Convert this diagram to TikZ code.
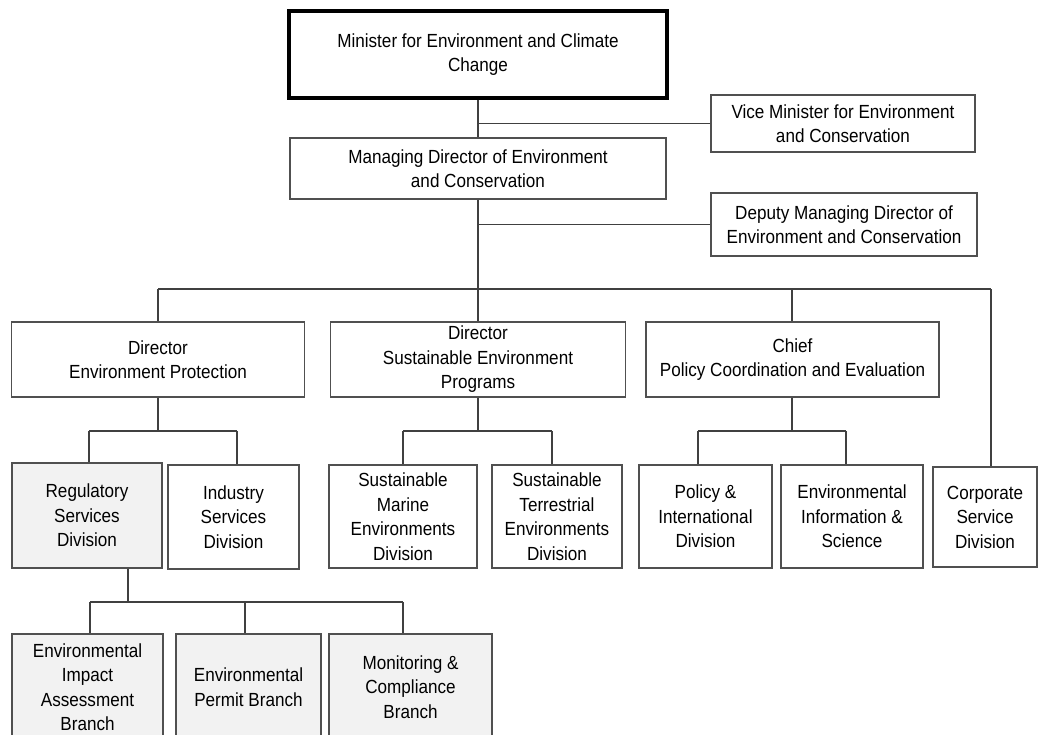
\documentclass[tikz,border=0pt]{standalone}
\usepackage{fontspec}
\setmainfont{Liberation Sans}[FakeStretch=0.9]
\begin{document}
\definecolor{linec}{HTML}{404040}
\definecolor{boxc}{HTML}{505050}
\definecolor{shade}{HTML}{F2F2F2}
\begin{tikzpicture}[x=1pt,y=-1pt,
  unit/.style={draw=boxc, line width=1.2pt, fill=white, align=center,
    inner sep=2pt, font=\fontsize{19}{24.5}\selectfont, text=black},
  shaded/.style={unit, fill=shade},
  head/.style={unit, draw=black, line width=3.4pt},
  link/.style={draw=linec, line width=1.2pt}]
\useasboundingbox (0,0) rectangle (1038,735);

% top level
\node[head, minimum width=378pt, minimum height=87pt] (min) at (478,54.5)
  {Minister for Environment and Climate\\Change};
\node[unit, minimum width=264pt, minimum height=57pt] (vice) at (843,123.5)
  {Vice Minister for Environment\\and Conservation};
\node[unit, minimum width=376pt, minimum height=61pt] (md) at (478,168.5)
  {Managing Director of Environment\\and Conservation};
\node[unit, minimum width=266pt, minimum height=63pt] (dep) at (844,224.5)
  {Deputy Managing Director of\\Environment and Conservation};

% directors
\node[unit, minimum width=293pt, minimum height=75pt] (ep) at (158,359.5)
  {Director\\Environment Protection};
\node[unit, minimum width=295pt, minimum height=75pt] (dse) at (478,359.5)
  {Director\\Sustainable Environment\\Programs};
\node[unit, minimum width=293pt, minimum height=75pt] (chief) at (792.5,359.5)
  {Chief\\Policy Coordination and Evaluation};

% divisions
\node[shaded, minimum width=150pt, minimum height=105pt] (reg) at (87,515.5)
  {Regulatory\\Services\\Division};
\node[unit, minimum width=131pt, minimum height=104pt] (ind) at (233.5,517)
  {Industry\\Services\\Division};
\node[unit, minimum width=148pt, minimum height=103pt] (marine) at (403,516.5)
  {Sustainable\\Marine\\Environments\\Division};
\node[unit, minimum width=130pt, minimum height=103pt] (terr) at (557,516.5)
  {Sustainable\\Terrestrial\\Environments\\Division};
\node[unit, minimum width=133pt, minimum height=103pt] (pol) at (705.5,516.5)
  {Policy \&\\International\\Division};
\node[unit, minimum width=142pt, minimum height=103pt] (info) at (852,516.5)
  {Environmental\\Information \&\\Science};
\node[unit, minimum width=104pt, minimum height=100pt] (corp) at (985,517)
  {Corporate\\Service\\Division};

% branches
\node[shaded, minimum width=151pt, minimum height=106pt] (eia) at (87.5,687)
  {Environmental\\Impact\\Assessment\\Branch};
\node[shaded, minimum width=145pt, minimum height=106pt] (permit) at (248.5,687)
  {Environmental\\Permit Branch};
\node[shaded, minimum width=163pt, minimum height=106pt] (mon) at (410.5,687)
  {Monitoring \&\\Compliance\\Branch};

% junction points
\coordinate (bus)   at (478,289);
\coordinate (busL)  at (158,289);
\coordinate (busR)  at (991,289);
\coordinate (busC)  at (792,289);
\coordinate (epJ)   at (158,431);
\coordinate (epL)   at (89,431);
\coordinate (epR)   at (237,431);
\coordinate (dseJ)  at (478,431);
\coordinate (dseL)  at (403,431);
\coordinate (dseR)  at (552,431);
\coordinate (chJ)   at (792,431);
\coordinate (chL)   at (698,431);
\coordinate (chR)   at (846,431);
\coordinate (regS)  at (128,568);
\coordinate (regJ)  at (128,602);
\coordinate (brL)   at (90,602);
\coordinate (brM)   at (245,602);
\coordinate (brR)   at (403,602);

% connectors, top part
\path[link] (min.south) -- (md.north);
\path[link] (vice.west) -- (vice.west -| min.south);
\path[link] (md.south) -- (bus);
\path[link] (dep.west) -- (dep.west -| md.south);
\path[link] (busL) -- (busR);
\path[link] (busL) -- (busL |- ep.north);
\path[link] (bus) -- (dse.north);
\path[link] (busC) -- (busC |- chief.north);
\path[link] (busR) -- (busR |- corp.north);

% connectors, divisions
\path[link] (ep.south -| epJ) -- (epJ);
\path[link] (epL) -- (epR);
\path[link] (epL) -- (epL |- reg.north);
\path[link] (epR) -- (epR |- ind.north);
\path[link] (dse.south) -- (dseJ);
\path[link] (dseL) -- (dseR);
\path[link] (dseL) -- (dseL |- marine.north);
\path[link] (dseR) -- (dseR |- terr.north);
\path[link] (chief.south -| chJ) -- (chJ);
\path[link] (chL) -- (chR);
\path[link] (chL) -- (chL |- pol.north);
\path[link] (chR) -- (chR |- info.north);

% connectors, branches
\path[link] (reg.south -| regS) -- (regJ);
\path[link] (brL) -- (brR);
\path[link] (brL) -- (brL |- eia.north);
\path[link] (brM) -- (brM |- permit.north);
\path[link] (brR) -- (brR |- mon.north);
\end{tikzpicture}
\end{document}
